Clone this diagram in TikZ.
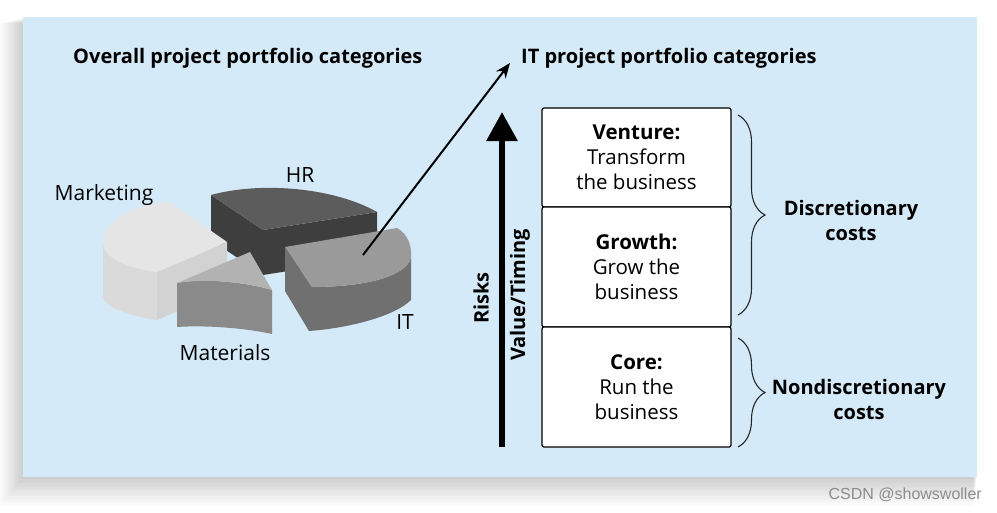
\documentclass[tikz,border=0pt]{standalone}
\usepackage{fontspec}
\setmainfont{Open Sans}
\newfontfamily\wmfont{Liberation Sans}
\usetikzlibrary{arrows.meta,decorations.pathreplacing}
\definecolor{bg}{RGB}{213,234,248}
\definecolor{mktop}{RGB}{229,229,229}
\definecolor{mkside}{RGB}{218,218,218}
\definecolor{mkright}{RGB}{210,210,210}
\definecolor{hrtop}{RGB}{92,92,92}
\definecolor{hrside}{RGB}{62,62,62}
\definecolor{mttop}{RGB}{178,178,178}
\definecolor{mtside}{RGB}{138,138,138}
\definecolor{ittop}{RGB}{154,154,154}
\definecolor{itside}{RGB}{112,112,112}
\begin{document}
\begin{tikzpicture}[x=1pt,y=-1pt,
  title/.style={font=\fontsize{20}{24}\selectfont\bfseries, anchor=west, inner sep=0},
  pielabel/.style={font=\fontsize{21}{25}\selectfont, inner sep=0},
  catbox/.style={draw=black, line width=1.2pt, fill=white, rounded corners=2pt,
    minimum width=189pt, inner sep=0, align=center, font=\fontsize{20.5}{25}\selectfont},
  axislabel/.style={font=\fontsize{20}{24}\selectfont\bfseries, rotate=90, inner sep=0},
  costlabel/.style={font=\fontsize{20}{25}\selectfont\bfseries, align=center, inner sep=0},
  bracestyle/.style={decorate, decoration={brace, amplitude=27pt}, line width=1.1pt, draw=black!85}
]
\useasboundingbox (0,0) rectangle (997,512);
\fill[white] (0,0) rectangle (997,512);
% soft shadow of the panel
\foreach \i in {1,...,12}{
  \fill[black, opacity=0.014] (23-1.9*\i, 17+0.5*\i) rectangle (977-0.3*\i, 477+2.4*\i);
}
\fill[bg] (23,17) rectangle (977,477);

% titles
\node[title] (overall) at (73,58) {Overall project portfolio categories};
\node[title] (ittitle) at (521,58) {IT project portfolio categories};

% ---- pie ----
% HR
\fill[hrside] (211,195) -- (263,230) -- (377,212) -- (377,257) -- (263,275) -- (211,240) -- cycle;
\fill[hrtop] (211,195) .. controls (262,181) and (335,188) .. (377,212) -- (263,230) -- cycle;
% Marketing
\fill[mkright] (157,272) -- (227,242) -- (227,290) -- (157,320) -- cycle;
\fill[mkside] (103,243) .. controls (103,258) and (128,268) .. (157,272) -- (157,320)
   .. controls (128,316) and (103,306) .. (103,296) -- cycle;
\fill[mktop] (170,202) .. controls (130,205) and (103,222) .. (103,243)
   .. controls (103,258) and (128,268) .. (157,272) -- (227,242) -- cycle;
% Materials
\fill[mtside] (177,283) .. controls (205,278) and (245,282) .. (272,290) -- (272,334)
   .. controls (245,328) and (205,325) .. (177,327) -- cycle;
\fill[mttop] (250,252) -- (177,283) .. controls (205,278) and (245,282) .. (272,290) -- cycle;
% IT
\fill[itside] (285,247) -- (312,287) .. controls (360,287) and (405,278) .. (411,258)
   -- (411,300) .. controls (395,316) and (350,328) .. (309,331) -- (285,291) -- cycle;
\fill[ittop] (285,247) -- (397,228) .. controls (408,234) and (412,246) .. (411,258)
   .. controls (405,278) and (360,287) .. (312,287) -- cycle;

\node[pielabel] (mkt) at (104,195) {Marketing};
\node[pielabel] (hr) at (300,175) {HR};
\node[pielabel] (mat) at (225,353) {Materials};
\node[pielabel] (it) at (405,322) {IT};

% arrow from IT slice to IT categories
\coordinate (itslice) at (363,255);
\coordinate (ittip) at (510,63);
\draw[line width=2pt, -{Stealth[length=15pt,width=12pt]}] (itslice) -- (ittip);

% big vertical arrow
\coordinate (axbot) at (502,447);
\coordinate (axtop) at (502,112);
\draw[line width=6pt, -{Triangle[length=29pt,width=30pt]}] (axbot) -- (axtop);
\node[axislabel] (risks) at (481,298) {Risks};
\node[axislabel] (value) at (520,295) {Value/Timing};

% category boxes
\node[catbox, minimum height=99pt] (venture) at (636.5,157.5) {\textbf{Venture:}\\Transform\\the business};
\node[catbox, minimum height=120pt] (growth) at (636.5,267) {\textbf{Growth:}\\Grow the\\business};
\node[catbox, minimum height=120pt] (core) at (636.5,387) {\textbf{Core:}\\Run the\\business};

% braces
\coordinate (b1top) at (738,115);
\coordinate (b1bot) at (738,315);
\coordinate (b2top) at (738,338);
\coordinate (b2bot) at (738,447);
\draw[bracestyle] (b1top) -- (b1bot);
\draw[bracestyle] (b2top) -- (b2bot);
\node[costlabel] (disc) at (851,220) {Discretionary\\costs};
\node[costlabel] (nondisc) at (859,399) {Nondiscretionary\\costs};

% watermark
\node[font=\wmfont\fontsize{16}{18}\selectfont, text=black!45, anchor=east, inner sep=0] (wm) at (982,495) {CSDN @showswoller};
\end{tikzpicture}
\end{document}
